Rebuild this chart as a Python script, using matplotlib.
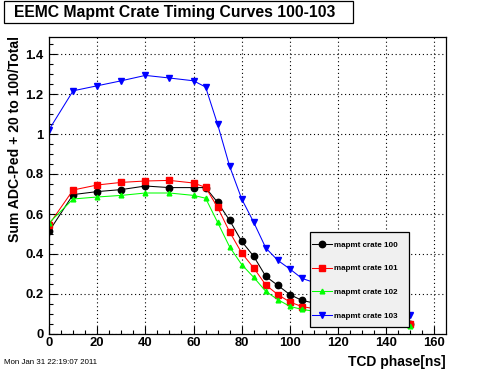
import matplotlib
matplotlib.use('Agg')
import matplotlib.pyplot as plt
from matplotlib.patches import Rectangle
from matplotlib.ticker import MultipleLocator

plt.rcParams['font.family'] = ['Liberation Sans', 'DejaVu Sans']

# TCD phase (ns); points between 105 and 150 are hidden behind the legend
phase = [0, 10, 20, 30, 40, 50, 60, 65, 70, 75, 80, 85, 90, 95, 100, 105, 150]

crate100 = [0.513, 0.697, 0.712, 0.722, 0.740, 0.732, 0.732, 0.732, 0.658, 0.568,
            0.463, 0.388, 0.288, 0.243, 0.197, 0.168, 0.050]
crate101 = [0.547, 0.720, 0.745, 0.758, 0.765, 0.768, 0.755, 0.733, 0.633, 0.510,
            0.405, 0.330, 0.245, 0.197, 0.160, 0.137, 0.048]
crate102 = [0.555, 0.675, 0.685, 0.693, 0.705, 0.705, 0.693, 0.679, 0.558, 0.435,
            0.347, 0.283, 0.213, 0.172, 0.138, 0.123, 0.040]
crate103 = [1.021, 1.216, 1.241, 1.266, 1.293, 1.280, 1.266, 1.235, 1.048, 0.838,
            0.675, 0.558, 0.430, 0.368, 0.325, 0.278, 0.097]

labels = ['mapmt crate 100', 'mapmt crate 101', 'mapmt crate 102', 'mapmt crate 103']

W, H = 496, 372
fig = plt.figure(figsize=(W / 100, H / 100), dpi=100)
ax = fig.add_axes([49 / W, 1 - 334 / H, (446 - 49) / W, (334 - 37) / H])

lw = 0.75
ax.plot(phase, crate100, color='black', lw=lw, marker='o', ms=4.6, label=labels[0])
ax.plot(phase, crate101, color='#ff0000', lw=lw, marker='s', ms=4.2, label=labels[1])
ax.plot(phase, crate102, color='#00ff00', lw=lw, marker='^', ms=3.4, label=labels[2])
ax.plot(phase, crate103, color='#0000ff', lw=lw, marker='v', ms=4.0, label=labels[3])

ax.set_xlim(0, 164.8)
ax.set_ylim(0, 1.485)

ax.xaxis.set_major_locator(MultipleLocator(20))
ax.xaxis.set_minor_locator(MultipleLocator(5))
ax.yaxis.set_minor_locator(MultipleLocator(0.05))
ax.set_yticks([0, 0.2, 0.4, 0.6, 0.8, 1.0, 1.2, 1.4])
ax.set_yticklabels(['0', '0.2', '0.4', '0.6', '0.8', '1', '1.2', '1.4'])

ax.tick_params(which='both', direction='in', top=False, right=False, width=0.8)
ax.tick_params(which='major', length=6)
ax.tick_params(which='minor', length=3)
ax.tick_params(axis='x', pad=2)
ax.tick_params(axis='y', pad=4)
for t in ax.get_xticklabels() + ax.get_yticklabels():
    t.set_fontweight('bold')
    t.set_fontsize(9.4)

ax.grid(True, which='major', color='black', linestyle=(0, (1, 2.5)), lw=0.8)
for s in ax.spines.values():
    s.set_linewidth(0.9)

# legend box drawn by hand, entries placed on top without their own frame
ax.add_patch(Rectangle((310 / W, 1 - 327 / H), 99 / W, 95 / H, transform=fig.transFigure,
                       facecolor='#f0f0f0', edgecolor='black', lw=0.9, zorder=5, clip_on=False))
leg = ax.legend(loc='upper left', bbox_to_anchor=(312 / W, 1 - 241 / H),
                bbox_transform=fig.transFigure, prop={'weight': 'bold', 'size': 5.8},
                frameon=False, borderpad=0, labelspacing=2.0, handlelength=2.5,
                handletextpad=0.25, borderaxespad=0)
leg.set_zorder(6)

# title box
fig.patches.append(Rectangle((4 / W, 1 - 22.7 / H), 348.7 / W, 21.4 / H,
                             transform=fig.transFigure, fill=False, edgecolor='black', lw=0.9))
fig.text(14.5 / W, 1 - 12.2 / H, 'EEMC Mapmt Crate Timing Curves 100-103',
         fontsize=11.3, fontweight='bold', ha='left', va='center')

fig.text(15.5 / W, 1 - 36 / H, 'Sum ADC-Ped + 20 to 100/Total', rotation=90,
         fontsize=10.1, fontweight='bold', ha='center', va='top')
fig.text(446 / W, 1 - 369 / H, 'TCD phase[ns]', fontsize=10, fontweight='bold',
         ha='right', va='bottom')
fig.text(4 / W, 1 - 366 / H, 'Mon Jan 31 22:19:07 2011', fontsize=5.7, ha='left', va='bottom')

fig.savefig('out.png', dpi=100)
